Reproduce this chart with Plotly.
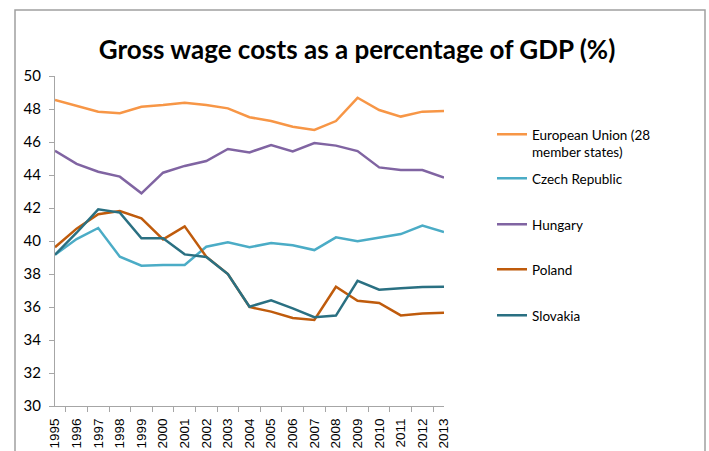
import plotly.graph_objects as go

# Gross wage costs as a share of GDP (%), 1995-2013
years = [str(y) for y in range(1995, 2014)]

eu28 = [48.55, 48.18, 47.84, 47.74, 48.14, 48.24, 48.38, 48.24, 48.04, 47.50,
        47.27, 46.93, 46.73, 47.27, 48.68, 47.94, 47.54, 47.84, 47.88]
czech = [39.17, 40.12, 40.79, 39.05, 38.50, 38.55, 38.55, 39.65, 39.92, 39.62,
         39.88, 39.74, 39.45, 40.22, 39.98, 40.18, 40.42, 40.93, 40.55]
hungary = [45.47, 44.67, 44.20, 43.90, 42.89, 44.14, 44.55, 44.85, 45.58, 45.37,
           45.82, 45.43, 45.94, 45.78, 45.45, 44.46, 44.30, 44.30, 43.84]
poland = [39.62, 40.75, 41.62, 41.82, 41.37, 40.10, 40.89, 39.05, 38.00, 36.00,
          35.72, 35.33, 35.21, 37.23, 36.38, 36.24, 35.49, 35.61, 35.65]
slovakia = [39.17, 40.50, 41.92, 41.72, 40.16, 40.16, 39.19, 39.03, 38.00, 36.02,
            36.40, 35.92, 35.38, 35.48, 37.59, 37.05, 37.13, 37.21, 37.23]

series = [
    ("European Union (28<br>member states)", eu28, "#F79646"),
    ("Czech Republic", czech, "#4BACC6"),
    ("Hungary", hungary, "#8064A2"),
    ("Poland", poland, "#BF5B0C"),
    ("Slovakia", slovakia, "#2A7082"),
]

# plot area in pixels (fixed by the margins below)
PLOT_LEFT, PLOT_RIGHT, PLOT_TOP, PLOT_BOTTOM = 55, 444, 76, 406
PLOT_W = PLOT_RIGHT - PLOT_LEFT
PLOT_H = PLOT_BOTTOM - PLOT_TOP

# top edge (pixels) of each legend box, one box per series
legend_tops = [119, 163, 209, 254, 300]

fig = go.Figure()
legends = {}
for i, (name, vals, color) in enumerate(series):
    key = "legend" if i == 0 else f"legend{i + 1}"
    fig.add_trace(go.Scatter(
        x=years, y=vals, name=name, mode="lines",
        line=dict(color=color, width=2.5),
        legend=key, showlegend=True,
    ))
    legends[key] = dict(
        x=(492 - PLOT_LEFT) / PLOT_W, y=(PLOT_BOTTOM - legend_tops[i]) / PLOT_H,
        xanchor="left", yanchor="top",
        font=dict(size=13.5), valign="top", bgcolor="rgba(0,0,0,0)",
    )

axis_color = "#A6A6A6"
fig.update_layout(
    width=709, height=451,
    showlegend=True,
    margin=dict(l=PLOT_LEFT, r=709 - PLOT_RIGHT, t=PLOT_TOP, b=451 - PLOT_BOTTOM,
                autoexpand=False),
    paper_bgcolor="white", plot_bgcolor="white",
    font=dict(family="Lato, Carlito, sans-serif", color="#000000", size=14),
    title=dict(
        text="<b>Gross wage costs as a percentage of GDP (%)</b>",
        font=dict(family="Lato, Carlito, sans-serif", size=26, color="#000000"),
        xref="container", x=357 / 709, xanchor="center",
        yref="container", y=1 - 50 / 451, yanchor="middle",
    ),
    xaxis=dict(
        type="category", tickangle=-90, automargin=False,
        showline=True, linecolor=axis_color, linewidth=1,
        ticks="outside", tickson="boundaries", ticklen=5, tickcolor=axis_color,
        tickfont=dict(family="Liberation Sans, Arial, sans-serif", size=13.5),
        ticklabelstandoff=6,
        showgrid=False, zeroline=False,
    ),
    yaxis=dict(
        range=[30, 50], dtick=2, tick0=30, automargin=False,
        showline=True, linecolor=axis_color, linewidth=1,
        ticks="outside", ticklen=5, tickcolor=axis_color,
        tickfont=dict(size=15), ticklabelstandoff=5,
        showgrid=False, zeroline=False,
    ),
    shapes=[dict(
        type="rect", xref="paper", yref="paper",
        x0=(15 - PLOT_LEFT) / PLOT_W, x1=(705 - PLOT_LEFT) / PLOT_W,
        y0=(PLOT_BOTTOM - 470) / PLOT_H, y1=(PLOT_BOTTOM - 10) / PLOT_H,
        line=dict(color="#A0A0A0", width=1.5), fillcolor="rgba(0,0,0,0)",
        layer="below",
    )],
    **legends,
)

fig.write_html("out.html")
